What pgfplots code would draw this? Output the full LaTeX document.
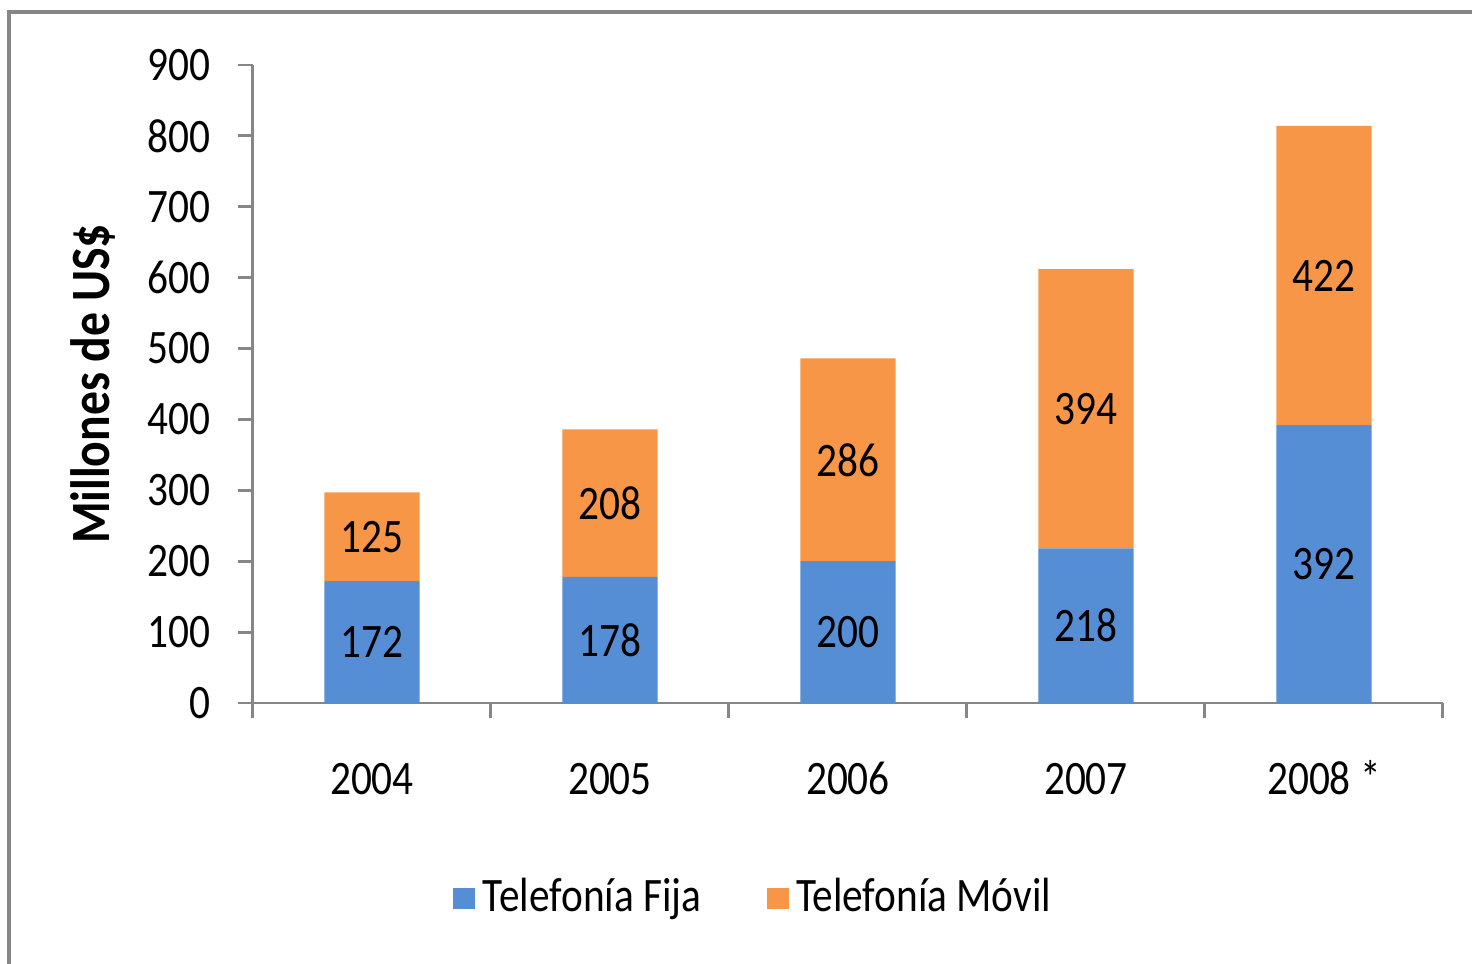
\documentclass[border=0pt]{standalone}
\usepackage{pgfplots}
\pgfplotsset{compat=1.18}
\usepackage{fontspec}
\setmainfont{Carlito}[FakeStretch=0.86]
\definecolor{fija}{RGB}{85,142,213}
\definecolor{movil}{RGB}{247,150,70}
\definecolor{axisgray}{RGB}{134,134,134}
\begin{document}
\fontsize{13pt}{15pt}\selectfont
\begin{tikzpicture}
\useasboundingbox (-2.406,-2.473) rectangle (11.594,6.686);
\draw[axisgray, line width=1.2pt] (-2.32,-2.6) -- (-2.32,6.572) -- (11.7,6.572);
\begin{axis}[
    at={(0,0)}, anchor=south west,
    scale only axis, width=11.318cm, height=6.068cm,
    ybar stacked, bar width=0.4,
    xmin=-0.5, xmax=4.5, ymin=0, ymax=900,
    xtick={0,...,4}, xticklabels={2004,2005,2006,2007,2008 *},
    minor xtick={-0.5,0.5,...,4.5},
    ytick={0,100,...,900},
    axis x line=bottom, axis y line=left,
    axis line style={axisgray, line width=0.8pt, -},
    tick style={axisgray, line width=0.8pt},
    major x tick style={draw=none},
    tick align=outside,
    major tick length=0.143cm, minor tick length=0.143cm,
    /pgf/number format/assume math mode=true,
    ticklabel style={font=\fontsize{13pt}{15pt}\selectfont},
    yticklabel style={xshift=-0.1cm},
    xticklabel style={yshift=-0.27cm, text height=8.5pt, text depth=0pt},
    ylabel={\textbf{Millones de US\$}},
    ylabel style={at={(axis description cs:-0.1345,0.5)}, anchor=center, font=\fontsize{15pt}{17pt}\selectfont},
    visualization depends on={rawy \as \rawy},
    nodes near coords={\pgfmathprintnumber{\rawy}},
    every node near coord/.append style={anchor=center, text=black, font=\fontsize{13pt}{15pt}\selectfont},
    legend style={at={(0.4227,-0.306)}, anchor=center, draw=none, legend columns=2,
        font=\fontsize{13pt}{15pt}\selectfont,
        /tikz/every even column/.append style={column sep=0.55cm}},
]
\addplot[fill=fija, draw=none, legend image code/.code={\fill[fija] (0cm,-0.1cm) rectangle (0.21cm,0.1cm);}]
    coordinates {(0,172) (1,178) (2,200) (3,218) (4,392)};
\addplot[fill=movil, draw=none, legend image code/.code={\fill[movil] (0cm,-0.1cm) rectangle (0.21cm,0.1cm);}]
    coordinates {(0,125) (1,208) (2,286) (3,394) (4,422)};
\legend{Telefonía Fija, Telefonía Móvil}
\end{axis}
\end{tikzpicture}
\end{document}
